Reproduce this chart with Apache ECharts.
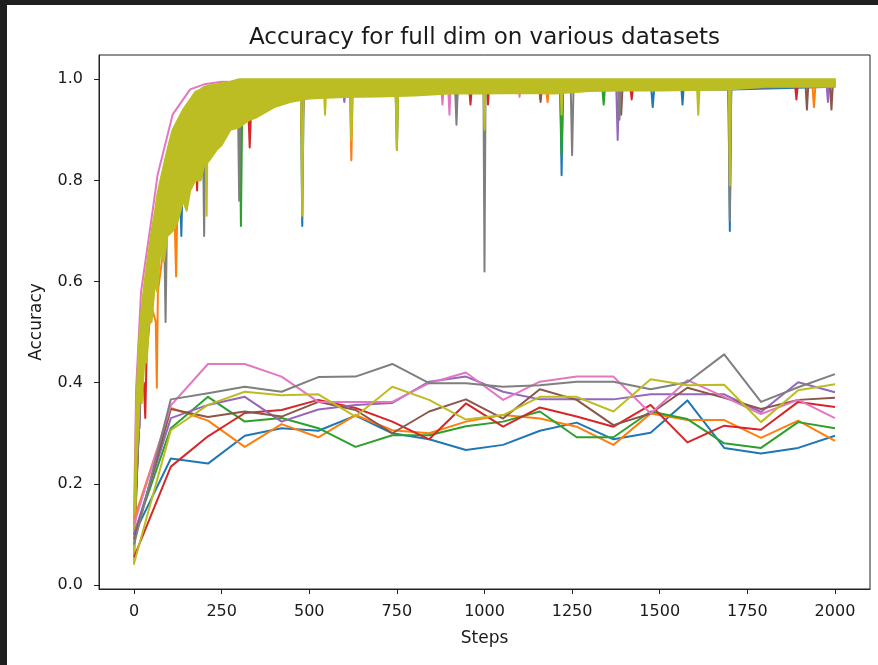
<!DOCTYPE html>
<html>
<head>
<meta charset="utf-8">
<script src="https://cdn.jsdelivr.net/npm/echarts@6/dist/echarts.min.js"></script>
<style>
  html, body { margin: 0; padding: 0; width: 878px; height: 665px; background: #1f1f1f; overflow: hidden; }
  #main { position: absolute; left: 7px; top: 5px; width: 871px; height: 660px; background: #fff; }
</style>
</head>
<body>
<div id="main"></div>
<script>
// Dense training curves, [step, accuracy]. Only the points that show
// (the climb and the downward spikes) are listed; the rest sits inside the olive band.
const fullBlue = [[0,.10],[20,.40],[60,.62],[100,.76],[131,.80],[135,.69],[139,.82],[200,.90],[300,.97],
  [476,.98],[480,.71],[484,.98],[916,.98],[920,.955],[924,.98],[1216,.98],[1220,.81],[1224,.98],
  [1476,.98],[1480,.945],[1484,.98],[1562,.98],[1565,.95],[1568,.98],[1696,.98],[1700,.70],[1704,.98],[2000,.985]];
const fullOrange = [[0,.13],[20,.40],[50,.55],[62,.52],[65,.39],[68,.58],[100,.75],[116,.72],[120,.61],[124,.76],
  [200,.90],[236,.93],[240,.875],[244,.93],[300,.96],[616,.98],[620,.84],[624,.98],[1176,.98],[1180,.955],[1184,.98],
  [1936,.985],[1940,.945],[1944,.985],[2000,.985]];
const fullGreen = [[0,.10],[20,.42],[60,.65],[100,.78],[160,.88],[250,.95],[301,.97],[305,.71],[309,.97],
  [746,.985],[750,.86],[754,.985],[1216,.985],[1220,.85],[1224,.985],[1336,.985],[1340,.95],[1344,.985],[2000,.985]];
const fullRed = [[0,.06],[16,.36],[28,.40],[32,.33],[36,.46],[60,.64],[100,.78],[112,.76],[115,.71],[118,.78],
  [176,.86],[180,.78],[184,.88],[250,.95],[325,.96],[330,.865],[335,.96],[476,.985],[480,.85],[484,.985],
  [956,.985],[960,.95],[964,.985],[1007,.985],[1010,.95],[1013,.985],[1156,.985],[1160,.96],[1164,.985],
  [1416,.985],[1420,.96],[1424,.985],[1696,.985],[1700,.86],[1704,.985],[1886,.99],[1890,.96],[1894,.99],[2000,.99]];
const fullPurple = [[0,.10],[13,.34],[16,.31],[19,.40],[60,.66],[100,.80],[136,.84],[140,.79],[144,.86],[250,.96],
  [596,.985],[600,.955],[604,.985],[1376,.985],[1380,.88],[1384,.985],[1976,.99],[1980,.955],[1984,.99],[2000,.99]];
const fullBrown = [[0,.09],[20,.44],[60,.66],[100,.80],[200,.93],[250,.96],[1156,.985],[1160,.955],[1164,.985],
  [1386,.985],[1390,.93],[1394,.985],[1916,.99],[1920,.94],[1924,.99],[1986,.99],[1990,.94],[1994,.99],[2000,.99]];
const fullPink = [[0,.14],[6,.39],[20,.58],[49,.72],[67,.81],[110,.93],[160,.98],[200,.99],[250,.995],
  [876,.99],[880,.95],[884,.99],[896,.99],[900,.93],[904,.99],[1096,.99],[1100,.965],[1104,.99],[2000,.99]];
const fullGray = [[0,.08],[20,.42],[60,.62],[86,.70],[90,.52],[94,.72],[150,.88],[196,.93],[200,.69],[204,.94],
  [296,.98],[300,.76],[304,.98],[476,.985],[480,.86],[484,.985],[916,.985],[920,.91],[924,.985],
  [997,.985],[1000,.62],[1003,.985],[1246,.985],[1250,.85],[1254,.985],[1381,.985],[1385,.92],[1389,.985],
  [1696,.985],[1700,.72],[1704,.985],[2000,.99]];
const fullOlive = [[0,.04],[10,.33],[30,.50],[60,.66],[100,.80],[150,.90],[203,.95],[207,.73],[211,.95],[300,.98],
  [476,.99],[480,.73],[484,.99],[541,.99],[545,.93],[549,.99],[616,.99],[620,.88],[624,.99],
  [746,.99],[750,.86],[754,.99],[997,.99],[1000,.90],[1003,.99],[1217,.99],[1220,.93],[1223,.99],
  [1606,.99],[1610,.93],[1614,.99],[1697,.99],[1700,.79],[1703,.99],[2000,.99]];

// the olive curve oscillates every step, so it shows as a solid band: its envelope
const bandSteps  = [0,6,12,16,22,30,36,44,50,60,66,75,85,95,110,125,140,150,160,175,190,200,215,235,250,275,300,330,350,400,445,
  500,600,700,800,900,1000,1100,1200,1300,1400,1500,1600,1700,1800,1900,2000];
const oliveUpper = [.10,.34,.45,.50,.55,.60,.63,.67,.70,.74,.77,.80,.83,.86,.90,.92,.94,.95,.96,.975,.98,.985,.988,.99,.992,.995,1,1,1,1,1,
  1,1,1,1,1,1,1,1,1,1,1,1,1,1,1,1];
const oliveLower = [.05,.25,.30,.37,.36,.45,.44,.53,.52,.60,.58,.66,.64,.69,.70,.72,.76,.74,.78,.80,.80,.83,.84,.86,.87,.90,.905,.92,.925,.945,.955,
  .962,.965,.966,.968,.972,.972,.973,.972,.977,.978,.978,.979,.98,.985,.985,.985];

// runs that stay around 0.3 - 0.4, evaluated at 20 points
const evalSteps = [0,105,211,316,421,526,632,737,842,947,1053,1158,1263,1368,1474,1579,1684,1789,1895,2000];
const lowBlue   = [.10,.25,.24,.295,.31,.305,.335,.30,.288,.267,.277,.305,.321,.288,.301,.365,.271,.26,.271,.295];
const lowOrange = [.13,.35,.325,.273,.318,.292,.336,.306,.30,.323,.336,.329,.313,.277,.339,.326,.326,.291,.325,.285];
const lowGreen  = [.10,.31,.372,.323,.33,.31,.273,.296,.296,.314,.323,.343,.292,.292,.343,.328,.28,.271,.322,.31];
const lowRed    = [.055,.234,.294,.34,.346,.366,.35,.323,.288,.359,.313,.351,.333,.313,.356,.282,.315,.307,.362,.352];
const lowPurple = [.10,.33,.356,.372,.323,.347,.356,.36,.402,.412,.382,.367,.367,.367,.377,.377,.377,.342,.401,.381];
const lowBrown  = [.09,.348,.332,.343,.333,.362,.346,.30,.343,.367,.329,.387,.366,.316,.339,.39,.37,.348,.366,.37];
const lowPink   = [.12,.355,.437,.437,.412,.362,.362,.362,.399,.42,.366,.402,.412,.412,.339,.405,.372,.338,.366,.33];
const lowGray   = [.08,.367,.379,.392,.382,.411,.412,.437,.399,.399,.392,.395,.402,.402,.387,.401,.456,.362,.391,.417];
const lowOlive  = [.043,.306,.356,.382,.375,.377,.333,.392,.366,.327,.336,.372,.372,.343,.407,.395,.396,.322,.385,.397];

const xTicks = [0,250,500,750,1000,1250,1500,1750,2000];
const yTicks = [0,0.2,0.4,0.6,0.8,1.0];

const colors = ['#1f77b4','#ff7f0e','#2ca02c','#d62728','#9467bd','#8c564b','#e377c2','#7f7f7f','#bcbd22'];
const OLIVE = colors[8];
const fullRuns = [fullBlue, fullOrange, fullGreen, fullRed, fullPurple, fullBrown, fullPink, fullGray];
const lowRuns = [lowBlue, lowOrange, lowGreen, lowRed, lowPurple, lowBrown, lowPink, lowGray, lowOlive];

const FONT = 'DejaVu Sans';
const TEXT = '#1a1a1a';

function makeLine(data, color, z) {
  return {
    type: 'line',
    z: z,
    data: data,
    showSymbol: false,
    symbol: 'none',
    silent: true,
    clip: true,
    lineStyle: { color: color, width: 2, join: 'round' },
    itemStyle: { color: color }
  };
}

var series = [];
// dense curves first, then the olive band over them
fullRuns.forEach((run, i) => series.push(makeLine(run, colors[i], 2)));
series.push({
  type: 'custom',
  z: 3,
  silent: true,
  data: [[bandSteps[0], oliveLower[0]]],
  encode: { x: 0, y: 1 },
  renderItem: function (params, api) {
    var top = bandSteps.map((s, i) => api.coord([s, oliveUpper[i]]));
    var bottom = bandSteps.map((s, i) => api.coord([s, oliveLower[i]])).reverse();
    return {
      type: 'polygon',
      shape: { points: top.concat(bottom) },
      style: { fill: OLIVE, stroke: OLIVE, lineWidth: 2, lineJoin: 'round' }
    };
  }
});
series.push(makeLine(fullOlive, OLIVE, 4));
// low runs
lowRuns.forEach((run, i) => series.push(makeLine(evalSteps.map((s, j) => [s, run[j]]), colors[i], 5)));

var myChart = echarts.init(document.getElementById('main'), null, { renderer: 'canvas' });

var option = {
  animation: false,
  backgroundColor: '#fff',
  title: {
    text: 'Accuracy for full dim on various datasets',
    left: 477.5,
    top: 22,
    padding: 0,
    textAlign: 'center',
    textStyle: { fontFamily: FONT, fontSize: 23, fontWeight: 'normal', color: TEXT }
  },
  grid: {
    left: 92, right: 8, top: 50, bottom: 76,
    containLabel: false,
    show: true,
    borderColor: '#222',
    borderWidth: 1,
    backgroundColor: '#fff'
  },
  xAxis: {
    type: 'value',
    min: -100, max: 2100,
    name: 'Steps',
    nameLocation: 'middle',
    nameGap: 41,
    nameTextStyle: { fontFamily: FONT, fontSize: 17, color: TEXT },
    axisLine: { show: true, onZero: false, lineStyle: { color: '#222', width: 1 } },
    axisTick: { show: true, length: 5, customValues: xTicks, lineStyle: { color: '#222' } },
    axisLabel: {
      customValues: xTicks, margin: 15, fontFamily: FONT, fontSize: 16, color: TEXT,
      formatter: v => String(v)
    },
    splitLine: { show: false }
  },
  yAxis: {
    type: 'value',
    min: -0.008, max: 1.048,
    name: 'Accuracy',
    nameLocation: 'middle',
    nameRotate: 90,
    nameGap: 54,
    nameTextStyle: { fontFamily: FONT, fontSize: 17, color: TEXT },
    axisLine: { show: true, onZero: false, lineStyle: { color: '#222', width: 1 } },
    axisTick: { show: true, length: 5, customValues: yTicks, lineStyle: { color: '#222' } },
    axisLabel: {
      customValues: yTicks, margin: 16, fontFamily: FONT, fontSize: 16, color: TEXT,
      formatter: v => Number(v).toFixed(1)
    },
    splitLine: { show: false }
  },
  series: series
};

myChart.setOption(option);
window.addEventListener('resize', myChart.resize);
</script>
</body>
</html>
